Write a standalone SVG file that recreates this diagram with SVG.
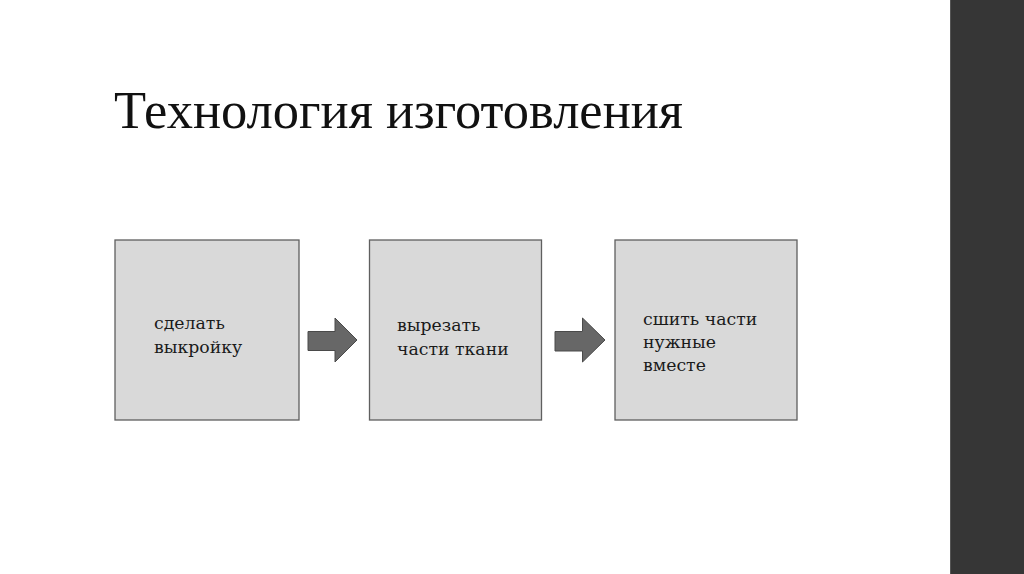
<svg xmlns="http://www.w3.org/2000/svg" width="1024" height="574" viewBox="0 0 1024 574">
<style>
.box{fill:#d9d9d9;stroke:#5f5f5f;stroke-width:1.3}
.arr{fill:#676767;stroke:#4a4a4a;stroke-width:1}
.t{font-family:"DejaVu Serif","Liberation Serif",serif;font-size:17.3px;fill:#1a1a1a}
.title{font-family:"Liberation Serif","Times New Roman",serif;font-size:52.5px;fill:#111}
</style>
<rect width="1024" height="574" fill="#ffffff"/>
<rect x="950" y="0" width="74" height="574" fill="#363636"/>
<line x1="950.5" y1="0" x2="950.5" y2="574" stroke="#555" stroke-width="1"/>
<text class="title" x="114" y="128">Технология изготовления</text>
<g id="node1">
<rect class="box" x="115" y="240" width="184" height="180"/>
<text class="t" x="154" y="329">сделать</text>
<text class="t" x="154" y="353">выкройку</text>
</g>
<g id="node2">
<rect class="box" x="369.5" y="240" width="172" height="180"/>
<text class="t" x="397" y="331">вырезать</text>
<text class="t" x="397" y="355">части ткани</text>
</g>
<g id="node3">
<rect class="box" x="615" y="240" width="182" height="180"/>
<text class="t" x="643" y="325">сшить части</text>
<text class="t" x="643" y="348">нужные</text>
<text class="t" x="643" y="371">вместе</text>
</g>
<g id="connectors">
<polygon class="arr" points="308,331.5 335,331.5 335,318 357,340 335,362 335,350.5 308,350.5"/>
<polygon class="arr" points="555,331.5 582.5,331.5 582.5,318 605,340 582.5,362 582.5,351 555,351"/>
</g>
</svg>
